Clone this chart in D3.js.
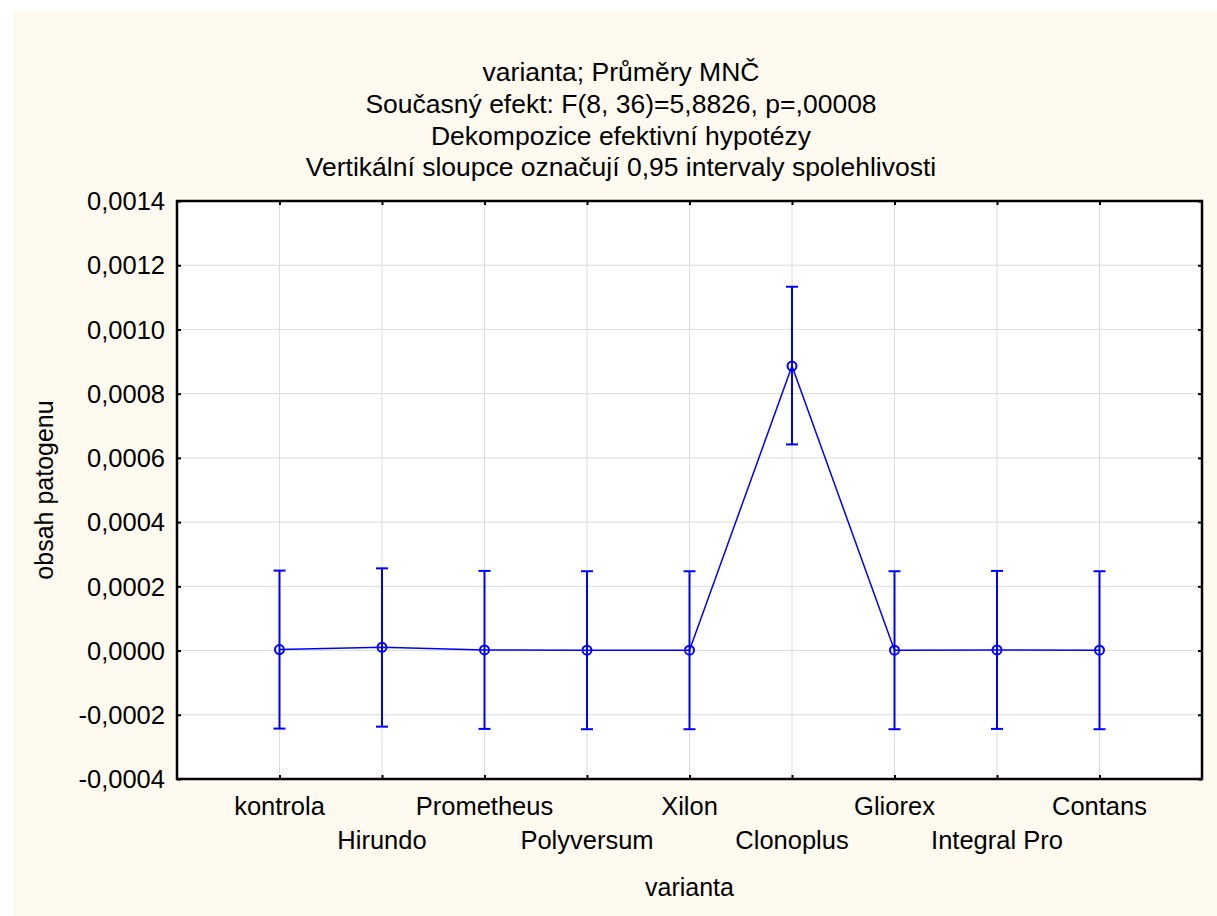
<!DOCTYPE html>
<html>
<head>
<meta charset="utf-8">
<script src="https://cdn.jsdelivr.net/npm/d3@7"></script>
<style>
  body { margin: 0; background: #fff; }
  text { font-family: "Liberation Sans", Arial, sans-serif; fill: #000; }
</style>
</head>
<body>
<script>
var categories = ['kontrola', 'Hirundo', 'Prometheus', 'Polyversum', 'Xilon',
                  'Clonoplus', 'Gliorex', 'Integral Pro', 'Contans'];
var means = [0.000003, 0.000010, 0.000002, 0.000001, 0.000001,
             0.000886, 0.000001, 0.000002, 0.000001];
var lower = [-0.000243, -0.000237, -0.000244, -0.000245, -0.000245,
             0.000642, -0.000245, -0.000244, -0.000245];
var upper = [0.000249, 0.000256, 0.000248, 0.000247, 0.000247,
             0.001133, 0.000247, 0.000248, 0.000247];
var yTicks = [-0.0004, -0.0002, 0, 0.0002, 0.0004, 0.0006, 0.0008, 0.0010, 0.0012, 0.0014];
var titles = ['varianta; Průměry MNČ',
              'Současný efekt: F(8, 36)=5,8826, p=,00008',
              'Dekompozice efektivní hypotézy',
              'Vertikální sloupce označují 0,95 intervaly spolehlivosti'];

var W = 1217, H = 916,
    pLeft = 177, pRight = 1202, pTop = 201, pBottom = 779,
    fs = 25,
    blue = '#0000ff';

var svg = d3.select('body').append('svg')
  .attr('width', W)
  .attr('height', H);

svg.append('rect')
  .attr('x', 13).attr('y', 11)
  .attr('width', W - 13).attr('height', H - 11)
  .attr('fill', '#fefaef');

var x = d3.scalePoint().domain(categories).range([pLeft, pRight]).padding(1);
var y = d3.scaleLinear().domain([-0.0004, 0.0014]).range([pBottom, pTop]);

function fmt(v) {
  return d3.format('.4f')(v).replace('.', ',').replace('−', '-');
}

svg.append('rect')
  .attr('x', pLeft).attr('y', pTop)
  .attr('width', pRight - pLeft).attr('height', pBottom - pTop)
  .attr('fill', '#fff');

// grid
svg.append('g').selectAll('line').data(yTicks.slice(1, -1))
  .enter().append('line')
  .attr('x1', pLeft).attr('x2', pRight)
  .attr('y1', function(d) { return y(d); })
  .attr('y2', function(d) { return y(d); })
  .attr('stroke', '#dcdcdc').attr('stroke-width', 1);

svg.append('g').selectAll('line').data(categories)
  .enter().append('line')
  .attr('x1', function(d) { return x(d); })
  .attr('x2', function(d) { return x(d); })
  .attr('y1', pTop).attr('y2', pBottom)
  .attr('stroke', '#dcdcdc').attr('stroke-width', 1);

// axes with inward ticks
var axL = svg.append('g').attr('transform', 'translate(' + pLeft + ',0)')
  .call(d3.axisRight(y).tickValues(yTicks).tickSize(4).tickFormat(''));
var axR = svg.append('g').attr('transform', 'translate(' + pRight + ',0)')
  .call(d3.axisLeft(y).tickValues(yTicks).tickSize(4).tickFormat(''));
var axB = svg.append('g').attr('transform', 'translate(0,' + pBottom + ')')
  .call(d3.axisTop(x).tickSize(4).tickFormat(''));
var axT = svg.append('g').attr('transform', 'translate(0,' + pTop + ')')
  .call(d3.axisBottom(x).tickSize(4).tickFormat(''));
[axL, axR, axB, axT].forEach(function(a) {
  a.select('.domain').remove();
  a.selectAll('line').attr('stroke', '#000').attr('stroke-width', 2);
});

svg.append('rect')
  .attr('x', pLeft).attr('y', pTop)
  .attr('width', pRight - pLeft).attr('height', pBottom - pTop)
  .attr('fill', 'none').attr('stroke', '#000').attr('stroke-width', 2.5);

// y tick labels
svg.append('g').selectAll('text').data(yTicks)
  .enter().append('text')
  .attr('x', pLeft - 12)
  .attr('y', function(d) { return y(d); })
  .attr('dy', '0.36em')
  .attr('text-anchor', 'end')
  .attr('font-size', 25.5)
  .text(fmt);

// x tick labels, staggered
svg.append('g').selectAll('text').data(categories)
  .enter().append('text')
  .attr('x', function(d) { return x(d); })
  .attr('y', function(d, i) { return i % 2 === 0 ? 815 : 849; })
  .attr('text-anchor', 'middle')
  .attr('font-size', 25.5)
  .text(function(d) { return d; });

// axis titles
svg.append('text')
  .attr('x', (pLeft + pRight) / 2).attr('y', 896)
  .attr('text-anchor', 'middle').attr('font-size', fs)
  .text('varianta');

svg.append('text')
  .attr('transform', 'translate(53,' + ((pTop + pBottom) / 2) + ') rotate(-90)')
  .attr('text-anchor', 'middle').attr('font-size', fs)
  .text('obsah patogenu');

// titles
svg.append('g').selectAll('text').data(titles)
  .enter().append('text')
  .attr('x', 621)
  .attr('y', function(d, i) { return 81 + i * 31.8; })
  .attr('text-anchor', 'middle')
  .attr('font-size', 26.5)
  .text(function(d) { return d; });

// data
var data = categories.map(function(c, i) {
  return {name: c, m: means[i], lo: lower[i], hi: upper[i]};
});

svg.append('path')
  .datum(data)
  .attr('fill', 'none')
  .attr('stroke', blue)
  .attr('stroke-width', 1.5)
  .attr('d', d3.line()
    .x(function(d) { return x(d.name); })
    .y(function(d) { return y(d.m); }));

var eb = svg.append('g').selectAll('g').data(data)
  .enter().append('g')
  .attr('stroke', blue)
  .attr('stroke-width', 2);

eb.append('line')
  .attr('x1', function(d) { return x(d.name); })
  .attr('x2', function(d) { return x(d.name); })
  .attr('y1', function(d) { return y(d.lo); })
  .attr('y2', function(d) { return y(d.hi); });

eb.append('line')
  .attr('x1', function(d) { return x(d.name) - 6; })
  .attr('x2', function(d) { return x(d.name) + 6; })
  .attr('y1', function(d) { return y(d.hi); })
  .attr('y2', function(d) { return y(d.hi); });

eb.append('line')
  .attr('x1', function(d) { return x(d.name) - 6; })
  .attr('x2', function(d) { return x(d.name) + 6; })
  .attr('y1', function(d) { return y(d.lo); })
  .attr('y2', function(d) { return y(d.lo); });

eb.append('circle')
  .attr('cx', function(d) { return x(d.name); })
  .attr('cy', function(d) { return y(d.m); })
  .attr('r', 4.5)
  .attr('fill', 'none');
</script>
</body>
</html>
